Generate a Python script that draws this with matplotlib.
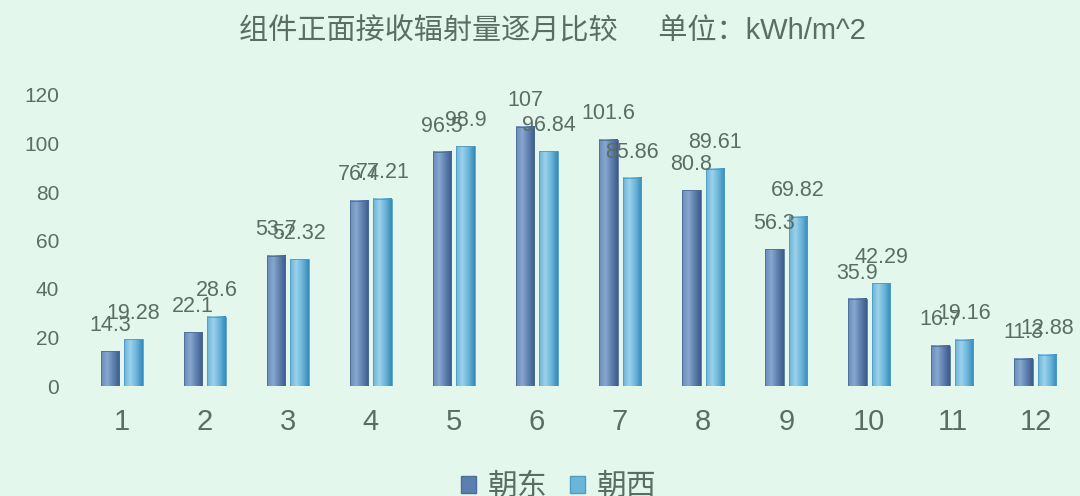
import matplotlib
matplotlib.use("Agg")
import matplotlib.pyplot as plt
import numpy as np
from matplotlib.colors import LinearSegmentedColormap
from matplotlib.patches import Patch

months = ["1", "2", "3", "4", "5", "6", "7", "8", "9", "10", "11", "12"]
east = [14.3, 22.1, 53.7, 76.4, 96.5, 107, 101.6, 80.8, 56.3, 35.9, 16.7, 11.3]
west = [19.28, 28.6, 52.32, 77.21, 98.9, 96.84, 85.86, 89.61, 69.82, 42.29, 19.16, 12.88]
series_names = ["朝东", "朝西"]
yticks = [0, 20, 40, 60, 80, 100, 120]
title = "组件正面接收辐射量逐月比较     单位：kWh/m^2"

BG = "#e3f7ed"
TXT = "#5b6e63"
FONT = ["Liberation Sans", "Noto Sans CJK SC", "DejaVu Sans"]
plt.rcParams["font.family"] = FONT

cmap_e = LinearSegmentedColormap.from_list("e", ["#6a8cbb", "#87a7ce", "#5e80b0", "#3c5b88"])
cmap_w = LinearSegmentedColormap.from_list("w", ["#6cb2d7", "#9bd2eb", "#69b4d9", "#3789b7"])

fig = plt.figure(figsize=(10.8, 4.96), dpi=100, facecolor=BG)
ax = fig.add_axes([80 / 1080, 110 / 496, 997 / 1080, 291 / 496])
ax.set_facecolor(BG)

x = np.arange(len(months))
w = 0.223
gap = 0.06
off = (w + gap) / 2
bars_e = ax.bar(x - off, east, w, color="#5b7fae", edgecolor="none", zorder=2)
bars_w = ax.bar(x + off, west, w, color="#6bb5d8", edgecolor="none", zorder=2)

grad = np.linspace(0, 1, 64).reshape(1, -1)
for bars, cm, ec in ((bars_e, cmap_e, "#4e6c96"), (bars_w, cmap_w, "#4d9cc4")):
    for p in bars:
        x0, y0 = p.get_x(), p.get_y()
        ax.imshow(grad, cmap=cm, aspect="auto", extent=[x0, x0 + p.get_width(), y0, y0 + p.get_height()],
                  zorder=3, interpolation="bilinear")
        p.set_zorder(4)
        p.set_facecolor("none")
        p.set_edgecolor(ec)
        p.set_linewidth(0.6)

for bars, vals in ((bars_e, east), (bars_w, west)):
    for p, v in zip(bars, vals):
        ax.annotate(f"{v:g}", (p.get_x() + p.get_width() / 2, v), xytext=(0, 11), textcoords="offset points",
                    ha="center", va="bottom", fontsize=15.5, color=TXT, zorder=6)

ax.set_xlim(-0.5, len(months) - 0.5)
ax.set_ylim(0, 120)
ax.set_xticks(x)
ax.set_xticklabels(months, fontsize=21, color=TXT)
ax.set_yticks(yticks)
ax.set_yticklabels([str(t) for t in yticks], fontsize=15, color=TXT)
ax.tick_params(axis="x", length=0, pad=16)
ax.tick_params(axis="y", length=0, pad=15)
for s in ax.spines.values():
    s.set_visible(False)

fig.text(552 / 1080, 1 - 31 / 496, title, ha="center", va="center", fontsize=21, color=TXT)

handles = [Patch(facecolor="#5b7fae", edgecolor="#4e6c96"), Patch(facecolor="#6bb5d8", edgecolor="#4d9cc4")]
leg = fig.legend(handles, series_names, loc="center", bbox_to_anchor=(559 / 1080, 1 - 487 / 496), ncol=2,
                 frameon=False, fontsize=21.5, handlelength=0.48, handleheight=0.48, handletextpad=0.42,
                 columnspacing=0.75, labelcolor=TXT)

fig.savefig("out.png", dpi=100, facecolor=BG)
